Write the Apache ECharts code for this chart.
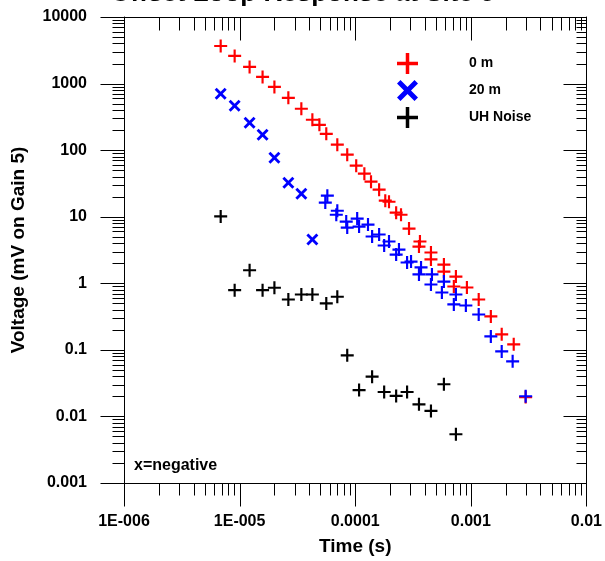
<!DOCTYPE html>
<html>
<head>
<meta charset="utf-8">
<script src="https://cdn.jsdelivr.net/npm/echarts@6/dist/echarts.min.js"></script>
<style>
html,body{margin:0;padding:0;background:#fff;}
#chart{width:605px;height:561px;}
</style>
</head>
<body>
<div id="chart"></div>
<script>
// ---- data ----
const xTickLabels = ['1E-006', '1E-005', '0.0001', '0.001', '0.01'];
const yTickLabels = ['0.001', '0.01', '0.1', '1', '10', '100', '1000', '10000'];
const legendNames = ['0 m', '20 m', 'UH Noise'];

const time0m = [6.86e-6, 9.06e-6, 1.22e-5, 1.58e-5, 2.0e-5, 2.64e-5, 3.42e-5, 4.26e-5, 4.9e-5, 5.62e-5,
  7.0e-5, 8.53e-5, 1.02e-4, 1.20e-4, 1.37e-4, 1.61e-4, 1.82e-4, 1.96e-4, 2.26e-4, 2.49e-4,
  2.92e-4, 3.63e-4, 3.56e-4, 4.52e-4, 4.52e-4, 5.85e-4, 5.85e-4, 7.43e-4, 7.13e-4, 9.25e-4,
  1.17e-3, 1.49e-3, 1.85e-3, 2.35e-3, 2.98e-3];
const volt0m = [3670, 2600, 1780, 1260, 890, 611, 418, 286, 240, 176,
  121, 85.5, 58.4, 44.3, 33.6, 25.5, 17.4, 16.8, 11.5, 10.7,
  6.63, 4.24, 3.56, 2.9, 2.28, 1.91, 1.5, 1.26, 0.895, 0.865,
  0.571, 0.318, 0.171, 0.121, 0.0195];

const time20mEarly = [6.86e-6, 9.06e-6, 1.22e-5, 1.58e-5, 2.0e-5, 2.64e-5, 3.42e-5, 4.26e-5];
const volt20mEarly = [702, 463, 258, 170, 76.9, 32.4, 22.2, 4.53];

const time20mLate = [5.74e-5, 5.51e-5, 7.0e-5, 6.86e-5, 8.36e-5, 8.53e-5, 1.04e-4, 1.08e-4, 1.29e-4, 1.40e-4,
  1.61e-4, 1.78e-4, 1.96e-4, 2.26e-4, 2.39e-4, 2.81e-4, 3.04e-4, 3.56e-4, 3.71e-4, 4.52e-4,
  4.61e-4, 5.62e-4, 5.85e-4, 7.13e-4, 7.43e-4, 9.06e-4, 1.17e-3, 1.49e-3, 1.85e-3, 2.30e-3, 2.98e-3];
const volt20mLate = [20.7, 16.3, 12.3, 10.7, 8.45, 6.87, 9.38, 7.11, 7.62, 5.04,
  5.4, 3.69, 4.24, 2.7, 3.21, 2.05, 2.12, 1.36, 1.73, 0.96,
  1.36, 0.728, 1.06, 0.481, 0.679, 0.464, 0.34, 0.159, 0.0948, 0.0673, 0.0201];

const timeNoise = [6.86e-6, 9.06e-6, 1.22e-5, 1.58e-5, 2.0e-5, 2.64e-5, 3.42e-5, 4.26e-5, 5.62e-5, 7.0e-5,
  8.53e-5, 1.08e-4, 1.40e-4, 1.78e-4, 2.26e-4, 2.81e-4, 3.56e-4, 4.52e-4, 5.85e-4, 7.43e-4];
const voltNoise = [10.1, 0.788, 1.57, 0.788, 0.857, 0.571, 0.679, 0.679, 0.498, 0.627,
  0.0828, 0.0249, 0.0396, 0.0233, 0.0203, 0.0233, 0.0152, 0.0121, 0.0304, 0.0054];

// ---- setup ----
const X_MIN = 1e-6, X_MAX = 1e-2, Y_MIN = 1e-3, Y_MAX = 1e4;
const PLUS = 'path://M5,0H7V5H12V7H7V12H5V7H0V5H5Z';
const CROSS = 'path://M0,2L2,0L6,4L10,0L12,2L8,6L12,10L10,12L6,8L2,12L0,10L4,6Z';
const zip = (a, b) => a.map((v, i) => [v, b[i]]);

const font = '"Liberation Sans", Arial, sans-serif';
const chart = echarts.init(document.getElementById('chart'), null, {renderer: 'canvas'});

const textGraphics = [
  {type: 'text', left: 'center', top: -19,
    style: {text: 'Offset Loop Response at Site 5', font: 'bold 26px ' + font, fill: '#000'}},
  {type: 'text', left: 134, top: 458,
    style: {text: 'x=negative', font: 'bold 16px ' + font, fill: '#000'}}
];

const option = {
  animation: false,
  backgroundColor: '#fff',
  grid: {left: 124, right: 17, top: 17, bottom: 77, containLabel: false},
  graphic: textGraphics,
  legend: {
    data: legendNames,
    orient: 'vertical',
    left: 392, top: 48,
    itemWidth: 21, itemHeight: 21, itemGap: 6,
    textStyle: {fontFamily: font, fontWeight: 'bold', fontSize: 14, color: '#000', padding: [0, 0, 0, 46]},
    selectedMode: false
  },
  xAxis: [
    {type: 'log', min: X_MIN, max: X_MAX, position: 'bottom',
      name: 'Time (s)', nameLocation: 'middle', nameGap: 54,
      nameTextStyle: {fontFamily: font, fontWeight: 'bold', fontSize: 19, color: '#000'},
      axisLine: {show: true, lineStyle: {color: '#000', width: 1}},
      axisTick: {show: false},
      axisLabel: {margin: 31, fontFamily: font, fontWeight: 'bold', fontSize: 16, color: '#000',
        formatter: v => xTickLabels[Math.round(Math.log10(v)) + 6] || ''},
      splitLine: {show: false}},
    {type: 'log', min: X_MIN, max: X_MAX, position: 'top',
      axisLine: {show: true, lineStyle: {color: '#000', width: 1}},
      axisTick: {show: false},
      axisLabel: {show: false}, splitLine: {show: false}}
  ],
  yAxis: [
    {type: 'log', min: Y_MIN, max: Y_MAX, position: 'left',
      name: 'Voltage (mV on Gain 5)', nameLocation: 'middle', nameGap: 96, nameRotate: 90,
      nameTextStyle: {fontFamily: font, fontWeight: 'bold', fontSize: 19, color: '#000'},
      axisLine: {show: true, lineStyle: {color: '#000', width: 1}},
      axisTick: {show: false},
      axisLabel: {margin: 37, fontFamily: font, fontWeight: 'bold', fontSize: 16, color: '#000',
        formatter: v => yTickLabels[Math.round(Math.log10(v)) + 3] || ''},
      splitLine: {show: false}},
    {type: 'log', min: Y_MIN, max: Y_MAX, position: 'right',
      axisLine: {show: true, lineStyle: {color: '#000', width: 1}},
      axisTick: {show: false},
      axisLabel: {show: false}, splitLine: {show: false}}
  ],
  series: [
    {type: 'scatter', name: '0 m', data: zip(time0m, volt0m), symbol: PLUS, symbolSize: 13,
      itemStyle: {color: '#ff0000', opacity: 1}},
    {type: 'scatter', name: '20 m', data: zip(time20mEarly, volt20mEarly), symbol: CROSS, symbolSize: 12,
      itemStyle: {color: '#0000ff', opacity: 1}},
    {type: 'scatter', name: '20 m late', data: zip(time20mLate, volt20mLate), symbol: PLUS, symbolSize: 13,
      itemStyle: {color: '#0000ff', opacity: 1}},
    {type: 'scatter', name: 'UH Noise', data: zip(timeNoise, voltNoise), symbol: PLUS, symbolSize: 13,
      itemStyle: {color: '#000000', opacity: 1}}
  ]
};
chart.setOption(option);

// ---- tick marks, positioned through the chart's own log scales ----
const tickGraphics = [];
const px = v => chart.convertToPixel({seriesIndex: 0}, v);
const addLine = (x1, y1, x2, y2) => tickGraphics.push({type: 'line', z: 10, silent: true,
  shape: {x1: x1, y1: y1, x2: x2, y2: y2}, style: {stroke: '#000', lineWidth: 1}});
const pBL = px([X_MIN, Y_MIN]), pTR = px([X_MAX, Y_MAX]);
const gB = Math.round(pBL[1]) + 0.5, gT = Math.round(pTR[1]) + 0.5;
const gL = Math.round(pBL[0]) + 0.5, gR = Math.round(pTR[0]) + 0.5;
for (let e = -6; e <= -2; e++) for (let k = 1; k <= 9; k++) {
  if (e === -2 && k > 1) break;
  const p = px([k * Math.pow(10, e), 1]);
  const x = Math.round(p[0]) + 0.5, major = k === 1;
  addLine(x, gB, x, gB + (major ? 23 : 12));   // bottom, outward
  addLine(x, gT, x, gT + (major ? 23 : 13));   // top, inward
}
for (let e = -3; e <= 4; e++) for (let k = 1; k <= 9; k++) {
  if (e === 4 && k > 1) break;
  const p = px([1e-4, k * Math.pow(10, e)]);
  const y = Math.round(p[1]) + 0.5, major = k === 1;
  addLine(gL, y, gL - (major ? 24 : 12), y);   // left, outward
  addLine(gR, y, gR - (major ? 23 : 10), y);   // right, inward
}
chart.setOption({graphic: textGraphics.concat(tickGraphics)});
</script>
</body>
</html>
